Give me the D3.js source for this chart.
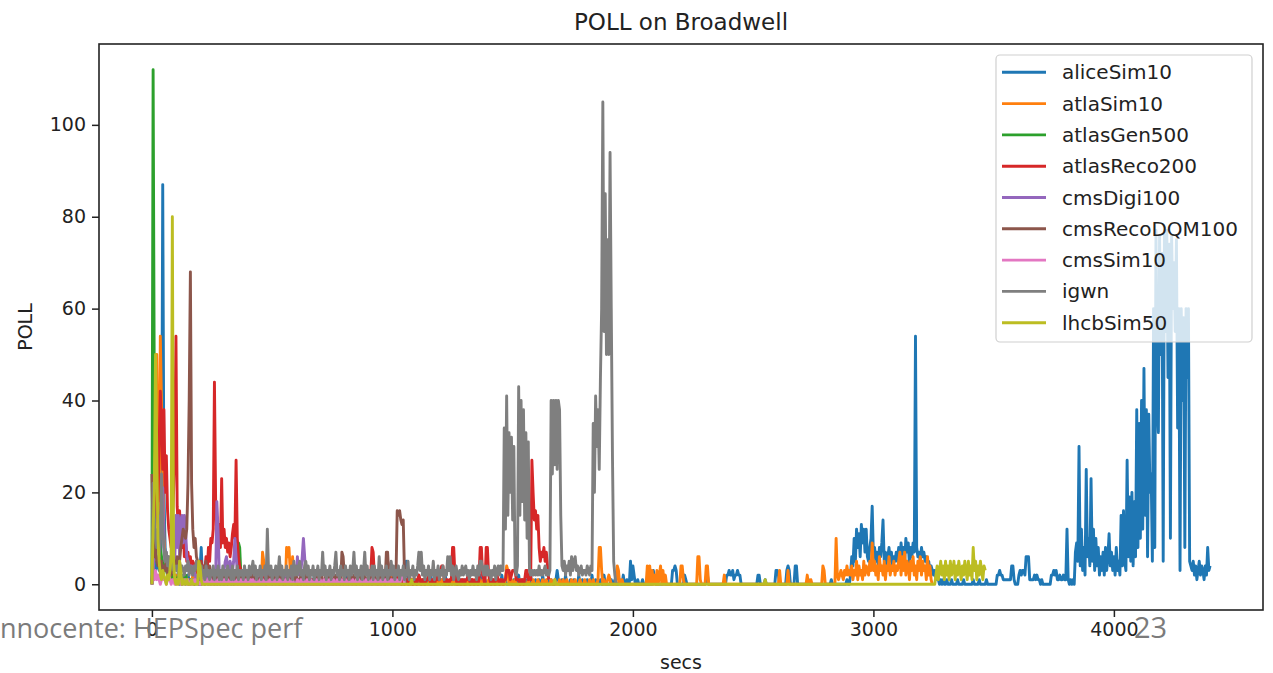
<!DOCTYPE html>
<html>
<head>
<meta charset="utf-8">
<script src="https://cdn.jsdelivr.net/npm/d3@7"></script>
<style>
  html, body { margin: 0; padding: 0; background: #fff; }
  svg { display: block; }
</style>
</head>
<body>
<svg id="chart" width="1273" height="673"></svg>
<script>
// POLL samples per benchmark, one value every sampleStep seconds starting at t = 0.
const sampleStep = 5;

const seriesNames = ["aliceSim10", "atlaSim10", "atlasGen500", "atlasReco200", "cmsDigi100",
                     "cmsRecoDQM100", "cmsSim10", "igwn", "lhcbSim50"];
const seriesColors = ["#1f77b4", "#ff7f0e", "#2ca02c", "#d62728", "#9467bd",
                      "#8c564b", "#e377c2", "#7f7f7f", "#bcbd22"];

// each row below holds 100 s of samples
const aliceSim10 = [
  0,2,5,3,4,6,3,5,12,87,20,8,5,3,2,3,2,1,2,1,
  1,2,1,0,1,2,1,1,0,1,2,1,0,1,1,0,1,2,1,0,
  3,8,2,1,0,1,1,0,1,2,1,0,1,1,0,1,0,1,1,0,
  0,1,0,0,1,0,2,1,0,0,1,0,0,1,0,0,2,0,0,1,
  0,0,1,0,0,2,0,1,0,0,1,0,0,0,1,0,0,2,0,0,
  1,0,0,1,0,0,2,0,0,1,0,0,0,1,0,3,0,0,1,0,
  0,1,0,0,0,2,0,0,1,0,0,1,0,0,0,2,0,0,1,0,
  0,0,1,0,0,2,0,0,0,1,0,0,2,0,0,1,0,0,0,1,
  0,0,2,0,0,1,0,0,0,1,0,0,2,0,0,0,1,0,0,1,
  0,0,1,0,0,2,0,0,1,0,0,0,1,0,0,2,0,0,1,0,
  0,1,0,0,2,0,0,1,0,0,5,2,5,1,0,0,1,0,0,1,
  0,0,2,0,0,1,0,0,1,0,0,0,2,0,0,1,0,0,0,1,
  0,1,0,0,2,0,0,0,1,0,0,1,0,0,2,0,0,1,0,0,
  1,0,0,2,0,0,1,0,0,0,1,0,0,2,0,0,0,1,0,0,
  0,2,0,0,1,0,0,0,1,0,0,2,0,0,1,0,0,0,1,0,
  0,1,0,0,0,2,0,0,1,0,0,0,1,0,0,2,0,0,0,1,
  0,0,1,0,0,2,0,0,0,1,0,0,1,0,0,0,1,3,1,0,
  0,1,0,0,2,0,0,0,1,0,0,1,0,0,0,2,0,0,1,0,
  0,0,1,0,0,0,2,0,0,1,0,0,0,1,0,0,2,0,0,0,
  0,0,1,0,0,1,0,0,0,1,0,0,2,0,0,1,0,0,5,1,
  4,2,0,0,1,0,0,0,1,0,0,0,0,0,0,0,0,3,1,0,
  0,0,0,0,0,0,1,0,0,0,0,0,0,3,3,4,3,0,0,0,
  0,0,0,2,1,0,0,0,0,0,0,0,0,0,0,0,0,0,0,0,
  0,1,2,0,0,0,0,0,0,0,0,0,0,0,0,0,0,0,2,2,
  3,2,2,3,1,2,2,3,2,2,0,0,0,0,0,0,0,0,0,0,
  0,0,0,0,2,2,0,0,0,0,1,0,0,0,0,0,0,0,0,3,
  3,2,0,0,0,0,0,0,3,4,3,0,0,0,0,4,4,0,0,0,
  0,0,0,0,0,0,1,0,0,0,0,0,0,0,0,0,0,0,0,0,
  0,0,0,0,0,1,0,0,0,0,0,0,0,0,0,0,0,0,1,0,
  0,2,6,4,10,5,12,8,11,6,13,9,12,7,12,6,5,8,10,17,
  6,8,5,7,4,8,6,9,14,5,7,4,6,8,5,7,4,6,5,7,
  5,8,4,9,6,8,5,10,7,9,4,8,6,9,7,54,8,6,7,5,
  8,6,7,5,6,4,5,3,4,3,2,3,1,2,1,0,1,0,1,0,
  0,1,0,0,0,1,0,0,0,0,1,0,0,0,0,1,0,0,0,0,
  0,0,0,1,0,0,0,0,1,0,0,0,0,0,1,0,0,0,0,0,
  0,0,0,2,2,3,2,2,1,1,1,1,1,1,1,4,4,1,0,0,
  0,2,3,2,3,3,2,6,6,6,1,1,1,1,2,1,2,1,1,0,
  1,0,0,0,0,0,0,0,2,2,3,2,3,1,1,2,1,1,2,1,
  1,12,1,0,1,0,1,0,7,9,5,30,4,12,3,8,2,25,6,10,
  4,23,5,12,3,10,4,8,2,6,3,7,2,8,3,6,11,4,7,3,
  6,2,8,3,5,2,15,4,16,5,3,27,6,19,5,20,4,18,6,38,
  8,35,10,40,12,47,15,38,6,37,20,24,5,60,8,77,40,33,76,50,
  72,5,76,55,77,45,74,10,76,60,70,55,75,34,60,3,60,40,58,8,
  60,45,60,5,4,3,5,2,4,1,3,5,2,4,3,1,4,2,8,3,4
];

const atlaSim10 = [
  0,3,8,20,50,30,12,54,39,25,10,6,4,3,2,3,2,1,2,1,
  2,1,1,2,1,0,1,1,2,1,0,1,1,0,2,1,0,1,1,2,
  1,0,1,1,0,1,3,3,1,0,1,1,0,1,0,1,1,0,1,0,
  0,1,0,0,1,0,0,1,0,0,1,0,0,0,1,0,0,1,0,0,
  0,1,0,0,0,1,0,0,0,1,0,0,7,5,0,0,1,0,0,0,
  0,1,0,0,0,1,0,0,0,1,0,0,8,6,8,3,0,6,1,0,
  0,1,0,0,0,1,0,0,1,0,0,0,1,0,0,1,0,0,0,1,
  0,0,1,0,0,0,2,0,0,0,1,0,0,0,1,0,0,2,0,0,
  0,1,0,0,0,1,0,0,0,1,0,0,2,0,0,0,1,0,0,0,
  0,1,0,0,0,1,0,0,0,1,0,0,1,0,0,0,1,0,2,2,
  0,0,1,0,0,0,1,0,0,1,0,0,0,1,0,0,0,1,0,0,
  1,0,0,0,1,0,0,1,0,0,0,1,0,0,1,0,0,0,1,0,
  0,1,0,0,1,0,0,0,1,0,0,1,0,0,0,1,0,0,1,0,
  0,0,1,0,0,0,1,0,0,1,0,0,0,1,0,0,1,0,0,0,
  1,0,0,1,0,0,0,1,0,0,1,0,0,0,1,4,3,0,0,1,
  0,0,1,0,0,0,1,0,0,1,0,0,0,1,0,0,0,1,0,0,
  0,1,0,0,0,1,0,0,1,0,0,0,1,0,0,1,0,0,0,1,
  0,0,1,0,0,1,0,0,0,1,0,0,1,0,0,0,1,0,0,0,
  1,0,0,0,1,0,0,1,0,0,0,1,8,8,3,0,1,0,0,1,
  2,1,0,0,0,0,0,4,3,0,0,1,0,0,0,0,0,0,0,0,
  0,0,0,0,0,0,0,0,0,0,0,0,4,0,4,0,3,0,2,0,
  3,0,2,4,0,3,0,2,0,0,0,0,0,0,0,0,0,0,0,0,
  4,4,1,0,0,0,0,0,0,0,0,0,0,0,6,6,1,0,0,0,
  0,4,4,0,0,0,0,0,0,0,0,0,0,0,0,0,2,0,0,0,
  0,0,0,0,0,0,0,0,0,0,0,0,0,0,0,0,0,0,0,0,
  0,0,0,0,0,0,0,0,0,0,0,0,0,0,0,0,0,0,0,0,
  0,0,3,0,0,0,0,0,0,3,0,0,0,0,0,0,0,0,0,0,
  0,0,0,0,0,2,0,0,1,0,0,0,0,0,0,0,0,0,4,3,
  0,0,0,0,0,0,0,0,0,10,2,1,2,3,2,1,3,2,4,2,
  3,2,4,1,3,2,5,1,4,2,3,1,5,2,4,3,2,5,3,9,
  3,5,2,4,1,6,3,4,2,5,1,4,3,6,2,4,3,5,2,4,
  3,5,7,2,6,3,7,2,5,4,1,5,3,6,2,4,1,5,3,6,
  2,5,3,4,1,6,2,4,1,0
];

const atlasGen500 = [
  0,112,40,23,20,15,10,8,6,5,4,3,3,2,2,2,1,2,1,1,
  1,1,2,1,1,0,1,1,2,1,1,0,1,1,1,0,1,1,1,0,
  1,0,1,1,0,1,1,0,1,0,1,1,0,1,0,1,1,0,1,0,
  1,0,1,0,1,1,0,1,0,1,1,2,9,8,2,1,0
];

const atlasReco200 = [
  0,5,10,15,20,18,30,42,35,25,38,20,28,16,12,10,8,14,20,30,
  54,17,12,16,10,8,12,6,9,5,7,4,6,3,5,4,3,5,2,4,
  3,5,2,4,3,6,3,8,5,10,9,12,44,18,10,9,13,8,23,9,
  12,8,10,7,9,6,8,11,13,10,27,10,6,4,3,2,3,1,2,1,
  1,2,1,0,1,1,2,1,0,1,1,0,2,1,1,0,1,1,2,1,
  2,2,1,0,1,1,0,1,1,0,1,1,0,1,2,1,0,1,1,0,
  1,0,1,1,0,1,2,1,0,1,1,0,1,1,0,1,0,1,2,1,
  0,1,1,0,1,2,1,0,1,1,0,1,1,0,2,1,0,1,1,0,
  1,1,0,1,2,1,0,1,1,0,1,2,1,0,1,1,0,1,1,0,
  1,0,2,8,7,2,1,0,1,1,0,1,2,1,0,1,5,4,1,0,
  1,1,0,1,1,2,1,0,1,1,0,1,1,0,2,1,1,0,1,1,
  0,1,2,1,0,1,1,0,1,1,2,1,0,1,1,0,1,2,1,1,
  3,4,4,1,0,1,1,0,1,1,8,8,2,1,0,1,1,0,1,1,
  0,1,1,2,1,0,1,1,0,1,1,0,1,8,8,2,1,0,8,8,
  2,1,0,1,1,0,1,2,1,0,1,1,0,1,1,3,3,3,1,2,
  3,3,3,1,1,1,0,1,1,0,1,3,3,1,2,1,27,20,14,16,
  12,15,8,5,7,6,8,5,7,4,1
];

const cmsDigi100 = [
  0,3,6,10,8,12,9,15,10,21,8,5,7,4,6,5,3,6,4,5,
  15,8,15,6,14,15,9,15,12,6,5,4,3,4,2,3,2,1,2,1,
  2,1,3,2,1,3,2,1,2,3,2,1,2,1,18,12,3,2,1,2,
  3,5,6,4,3,5,4,3,5,10,6,3,2,1,2,1,2,1,1,2,
  1,2,1,2,1,1,2,1,0,1,2,1,1,0,1,2,1,1,2,1,
  1,2,1,0,1,2,1,1,0,1,2,1,1,0,1,2,1,1,0,1,
  2,6,2,4,3,6,10,6,2,1,1,0,0
];

const cmsRecoDQM100 = [
  24,10,6,8,5,4,6,3,5,2,4,3,5,2,4,3,2,4,3,5,
  4,6,3,5,8,10,12,11,10,12,22,40,68,22,12,8,10,6,5,4,
  5,3,4,2,3,5,2,3,4,2,3,1,2,3,2,1,2,3,1,2,
  2,1,3,2,1,2,3,1,2,1,2,3,1,2,1,2,1,3,2,1,
  1,2,1,0,2,1,1,2,1,0,1,2,1,1,0,2,1,1,2,1,
  0,1,2,1,1,0,2,1,1,2,0,1,1,2,1,0,1,2,1,1,
  2,1,0,1,2,1,1,0,2,1,1,2,1,0,1,1,2,1,0,1,
  1,2,1,0,1,2,1,1,2,1,0,1,2,1,1,2,1,0,7,6,
  2,1,1,0,1,2,1,1,2,1,0,1,1,2,1,0,1,2,1,1,
  1,2,1,0,1,2,1,1,0,1,2,1,1,0,1,7,7,2,1,1,
  1,2,3,2,16,15,16,14,13,14,3,0
];

const cmsSim10 = [
  0,2,1,3,1,2,1,0,1,2,1,1,0,1,2,1,0,1,1,0,
  1,0,1,1,0,1,0,1,1,0,1,0,0,1,0,1,1,0,0,1,
  0,1,0,0,1,0,1,0,0,1,0,0,1,0,0,1,0,1,0,0,
  1,0,0,1,0,0,1,0,1,0,0,1,0,0,1,0,0,1,0,1,
  0,0,1,0,1,0,0,1,0,0,1,0,1,0,0,1,0,0,1,0,
  1,0,0,1,0,0,1,0,0,1,0,1,0,0,1,0,0,1,0,0,
  0,1,0,0,1,0,1,0,0,1,0,0,1,0,0,1,0,1,0,0,
  1,0,0,1,0,0,1,0,1,0,0,1,0,0,1,0,0,1,0,1,
  0,1,0,0,1,0,0,1,0,0,1,0,1,0,0,1,0,0,1,0,
  1,0,0,1,0,1,0,0,1,0,0,1,0,0,1,0,1,0,0,1,
  0,1,0,1,0,1,0,1,3,3,0
];

const igwn = [
  0,22,15,10,8,12,6,9,24,12,8,5,7,4,6,3,5,4,3,4,
  3,4,2,5,3,4,3,2,4,3,5,2,4,3,2,4,3,5,4,3,
  1,4,2,3,1,4,2,3,1,3,2,4,1,3,2,4,1,3,1,4,
  2,3,1,4,2,3,1,4,1,3,2,4,1,3,2,3,1,4,2,3,
  1,4,2,3,5,2,4,1,3,2,4,1,3,2,4,1,12,3,2,4,
  1,3,2,4,1,3,6,2,4,1,3,2,4,1,3,2,4,1,5,2,
  4,2,4,5,2,3,1,4,5,2,4,1,3,2,4,1,3,2,4,1,
  3,2,7,2,4,1,3,2,4,1,3,2,4,7,2,3,1,4,2,3,
  1,4,2,3,1,4,2,3,7,2,4,1,3,2,4,1,3,7,2,4,
  1,3,2,4,1,4,2,3,1,6,2,4,1,3,2,4,1,3,2,5,
  2,4,1,3,2,4,1,3,2,4,1,3,2,5,1,3,2,4,1,3,
  2,4,7,3,7,2,4,1,3,2,4,1,3,2,5,1,3,2,4,1,
  3,2,4,1,3,2,6,3,6,2,4,1,3,4,2,1,3,2,4,2,
  3,4,2,3,1,3,2,4,2,3,1,4,2,5,5,3,2,4,2,4,
  2,3,1,3,2,4,1,3,4,2,4,3,3,34,12,41,15,33,20,32,
  14,30,3,2,4,43,15,40,18,38,14,33,10,31,3,2,3,2,3,2,
  3,2,4,2,3,2,3,4,2,3,2,3,40,24,40,26,40,25,40,38,
  15,4,3,5,2,4,3,5,2,6,3,5,6,3,4,2,3,4,2,3,
  3,2,4,3,2,4,3,35,20,41,30,38,25,45,60,105,55,85,50,75,
  50,94,60,28,5,2,0
];

const lhcbSim50 = [
  0,12,20,50,30,10,5,2,1,3,2,1,0,2,1,3,6,80,5,1,
  0,1,0,5,3,0,1,0,0,1,0,0,0,1,0,0,0,0,0,5,
  4,1,0,0,0,0,0,0,0,0,0,0,0,0,0,0,0,0,0,0,
  0,0,0,0,0,0,0,0,0,0,0,0,0,0,0,0,0,0,0,0,
  0,0,0,0,0,0,0,0,0,0,0,0,0,0,0,0,0,0,0,0,
  0,0,0,0,0,0,0,0,0,0,0,0,0,0,0,0,0,0,0,0,
  0,0,0,0,0,0,0,0,0,0,0,0,0,0,0,0,0,0,0,0,
  0,0,0,0,0,0,0,0,0,0,0,0,0,0,0,0,0,0,0,0,
  0,0,0,0,0,0,0,0,0,0,0,0,0,0,0,0,0,0,0,0,
  0,0,0,0,0,0,0,0,0,0,0,0,0,0,0,0,0,0,0,0,
  0,0,0,0,0,0,0,0,0,0,0,0,0,0,0,0,1,0,0,0,
  0,0,0,0,0,0,0,0,0,0,0,0,0,0,0,0,0,0,0,0,
  0,0,0,0,0,0,0,0,0,0,0,0,0,0,0,0,0,0,0,0,
  0,0,0,0,0,0,0,0,0,0,0,0,0,0,0,0,0,0,0,0,
  0,0,0,0,0,0,0,0,0,0,0,0,0,0,0,0,0,0,0,0,
  0,0,0,0,0,0,0,0,0,0,0,0,0,0,0,0,0,0,0,0,
  0,0,0,0,0,0,0,0,0,0,0,0,0,0,0,1,0,0,0,0,
  0,0,0,0,0,0,0,0,0,0,0,0,0,0,0,0,0,0,0,0,
  0,0,0,0,0,0,0,0,0,0,0,0,0,0,0,0,0,0,0,0,
  0,0,0,0,0,0,0,0,0,0,0,0,0,0,0,0,0,0,0,0,
  0,0,0,0,0,0,0,0,0,0,0,0,0,0,0,0,0,0,0,0,
  0,0,0,0,0,0,0,0,0,0,0,0,0,0,0,0,0,0,0,0,
  0,0,0,0,0,0,0,0,0,0,0,0,0,0,0,0,0,0,0,0,
  0,0,0,0,0,0,0,0,0,0,0,0,0,0,0,0,0,0,0,0,
  0,0,0,0,0,0,0,0,0,0,0,0,0,0,0,0,0,0,0,0,
  0,0,0,0,0,0,0,0,0,0,1,0,0,0,0,0,0,0,0,0,
  0,0,0,0,0,0,0,0,0,0,0,0,0,0,0,0,0,0,0,0,
  0,0,0,0,0,0,0,0,0,0,0,0,0,0,0,0,0,0,0,0,
  0,0,0,0,0,0,0,0,0,0,0,0,0,0,0,0,0,0,0,0,
  0,0,0,0,0,0,0,0,0,0,0,0,0,0,0,0,0,0,0,0,
  0,0,0,0,0,0,0,0,0,0,0,0,0,0,0,0,0,0,0,0,
  0,0,0,0,0,0,0,0,0,0,0,0,0,0,0,0,0,0,0,0,
  0,0,0,0,0,0,0,0,0,0,0,0,2,4,1,3,5,2,4,1,
  5,2,4,1,5,2,3,5,1,4,2,5,3,1,4,2,5,3,1,5,
  2,4,1,8,3,5,1,4,2,5,3,1,4,3
];

const yTicks = [0, 20, 40, 60, 80, 100];
const xTicks = [0, 1000, 2000, 3000, 4000];

const chartTitle = "POLL on Broadwell";
const xLabel = "secs";
const yLabel = "POLL";
const footerLeft = "nnocente: HEPSpec perf";
const footerRight = "23";

// ---------------------------------------------------------------------------
const seriesValues = [aliceSim10, atlaSim10, atlasGen500, atlasReco200, cmsDigi100,
                      cmsRecoDQM100, cmsSim10, igwn, lhcbSim50];
const series = seriesNames.map((name, i) => ({
  name, color: seriesColors[i], values: seriesValues[i]
}));

const plot = { left: 99, top: 44, right: 1263, bottom: 610 };
const fontFamily = "'DejaVu Sans', sans-serif";
const lineWidth = 2.9;

// matplotlib-style 5% margins around the data extent
const tMax = d3.max(series, s => (s.values.length - 1) * sampleStep);
const vMax = d3.max(series, s => d3.max(s.values));
const x = d3.scaleLinear().domain([-0.05 * tMax, tMax * 1.05]).range([plot.left, plot.right]);
const y = d3.scaleLinear().domain([-0.05 * vMax, vMax * 1.05]).range([plot.bottom, plot.top]);

const svg = d3.select("#chart");

svg.append("defs").append("clipPath").attr("id", "plot-clip")
  .append("rect")
  .attr("x", plot.left).attr("y", plot.top)
  .attr("width", plot.right - plot.left).attr("height", plot.bottom - plot.top);

// series lines
const line = d3.line()
  .x((v, i) => x(i * sampleStep))
  .y(v => y(v));

svg.append("g").attr("clip-path", "url(#plot-clip)")
  .selectAll("path")
  .data(series)
  .join("path")
  .attr("d", d => line(d.values))
  .attr("fill", "none")
  .attr("stroke", d => d.color)
  .attr("stroke-width", lineWidth)
  .attr("stroke-linejoin", "round");

// axes
const yAxis = svg.append("g")
  .attr("transform", `translate(${plot.left},0)`)
  .call(d3.axisLeft(y).tickValues(yTicks).tickSize(7).tickPadding(6).tickFormat(d3.format("d")));
const xAxis = svg.append("g")
  .attr("transform", `translate(0,${plot.bottom})`)
  .call(d3.axisBottom(x).tickValues(xTicks).tickSize(7).tickPadding(6).tickFormat(d3.format("d")));

[yAxis, xAxis].forEach(g => {
  g.select(".domain").remove();
  g.selectAll(".tick line").attr("stroke", "#222").attr("stroke-width", 1.5);
  g.selectAll(".tick text")
    .attr("fill", "#222")
    .style("font-family", fontFamily)
    .style("font-size", "19px");
});

// frame
svg.append("rect")
  .attr("x", plot.left).attr("y", plot.top)
  .attr("width", plot.right - plot.left).attr("height", plot.bottom - plot.top)
  .attr("fill", "none").attr("stroke", "#222").attr("stroke-width", 1.6);

// title and axis labels
svg.append("text")
  .attr("x", (plot.left + plot.right) / 2).attr("y", 30)
  .attr("text-anchor", "middle")
  .attr("fill", "#222")
  .style("font-family", fontFamily).style("font-size", "23px")
  .text(chartTitle);

svg.append("text")
  .attr("x", (plot.left + plot.right) / 2).attr("y", 669)
  .attr("text-anchor", "middle")
  .attr("fill", "#222")
  .style("font-family", fontFamily).style("font-size", "19px")
  .text(xLabel);

svg.append("text")
  .attr("transform", `translate(32,${(plot.top + plot.bottom) / 2}) rotate(-90)`)
  .attr("text-anchor", "middle")
  .attr("fill", "#222")
  .style("font-family", fontFamily).style("font-size", "19px")
  .text(yLabel);

// legend
const legend = { x: 996, y: 55, w: 256, h: 287, rowH: 31.3, firstRow: 72.3 };
const lg = svg.append("g");
lg.append("rect")
  .attr("x", legend.x).attr("y", legend.y)
  .attr("width", legend.w).attr("height", legend.h)
  .attr("rx", 4)
  .attr("fill", "#fff").attr("fill-opacity", 0.8)
  .attr("stroke", "#d0d0d0").attr("stroke-width", 1.2);

const rows = lg.selectAll("g.entry")
  .data(series)
  .join("g")
  .attr("class", "entry")
  .attr("transform", (d, i) => `translate(0,${legend.firstRow + i * legend.rowH})`);
rows.append("line")
  .attr("x1", 1002).attr("x2", 1046)
  .attr("stroke", d => d.color).attr("stroke-width", lineWidth);
rows.append("text")
  .attr("x", 1062).attr("dy", "0.35em")
  .attr("fill", "#222")
  .style("font-family", fontFamily).style("font-size", "20px")
  .text(d => d.name);

// slide footer
svg.append("text")
  .attr("x", 0).attr("y", 638)
  .attr("fill", "#7b7b7b")
  .style("font-family", "'Open Sans', sans-serif").style("font-size", "27px")
  .text(footerLeft);
svg.append("text")
  .attr("x", 1134).attr("y", 638)
  .attr("fill", "#7b7b7b")
  .style("font-family", "'Open Sans', sans-serif").style("font-size", "29px")
  .text(footerRight);
</script>
</body>
</html>
